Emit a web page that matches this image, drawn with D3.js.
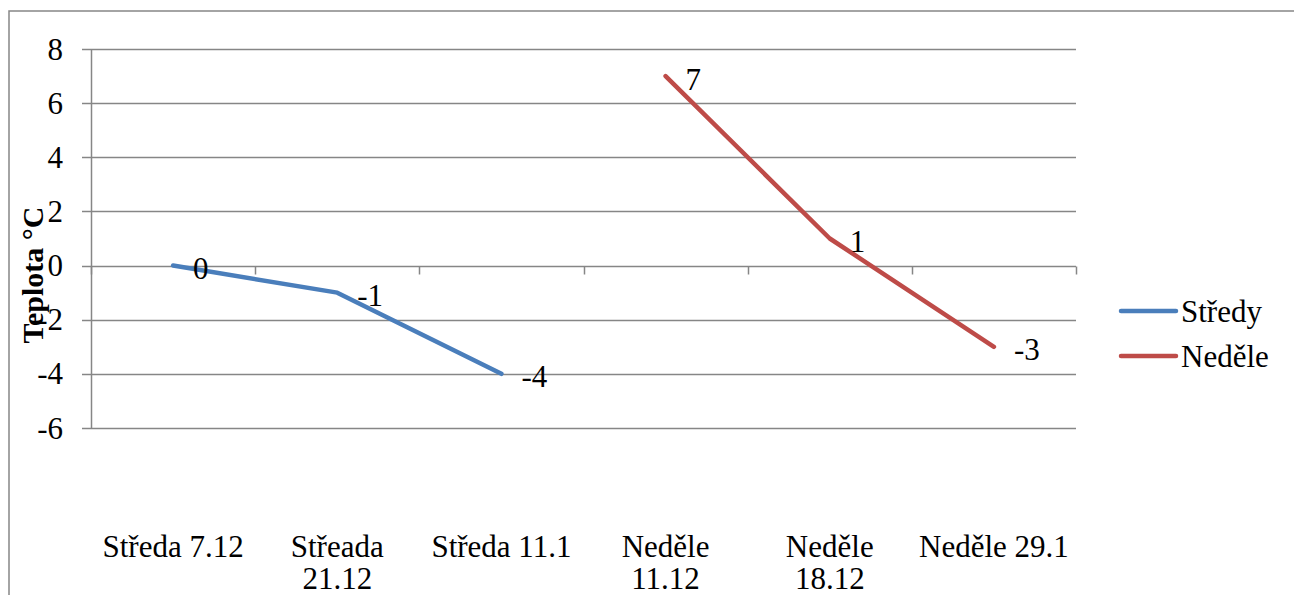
<!DOCTYPE html>
<html>
<head>
<meta charset="utf-8">
<script src="https://cdn.jsdelivr.net/npm/d3@7"></script>
<style>
  html, body { margin: 0; padding: 0; background: #fff; }
  svg { display: block; }
</style>
</head>
<body>
<svg id="chart" width="1294" height="595"></svg>
<script>
const categories = ["Středa 7.12", "Střeada 21.12", "Středa 11.1", "Neděle 11.12", "Neděle 18.12", "Neděle 29.1"];
const seriesNames = ["Středy", "Neděle"];
const stredyValues = [0, -1, -4, null, null, null];
const nedeleValues = [null, null, null, 7, 1, -3];
const yTicks = [-6, -4, -2, 0, 2, 4, 6, 8];
const yTitle = "Teplota °C";
const colors = ["#4A7EBB", "#BE4B48"];

(function () {
const svg = d3.select("#chart");
const plotL = 91, plotR = 1076, plotT = 49, plotB = 428;
const gridColor = "#868686";
const fs = 31;
const ff = "'Liberation Serif', 'Times New Roman', Times, Tinos, 'Nimbus Roman', 'Nimbus Roman No9 L', 'Noto Serif', FreeSerif, 'DejaVu Serif', serif";

// outer border
svg.append("rect").attr("x", 9).attr("y", 11).attr("width", 1300).attr("height", 600)
  .attr("fill", "none").attr("stroke", gridColor).attr("stroke-width", 1.5);

const x = d3.scaleBand().domain(categories).range([plotL, plotR]);
const y = d3.scaleLinear().domain([-6, 8]).range([plotB, plotT]);

// gridlines
svg.append("g").selectAll("line").data(yTicks).join("line")
  .attr("x1", plotL - 9).attr("x2", plotR)
  .attr("y1", d => Math.round(y(d)) + 0.5).attr("y2", d => Math.round(y(d)) + 0.5)
  .attr("stroke", gridColor).attr("stroke-width", 1.5);

// y axis line
svg.append("line").attr("x1", plotL + 0.5).attr("x2", plotL + 0.5).attr("y1", y(8)).attr("y2", y(-6))
  .attr("stroke", gridColor).attr("stroke-width", 1.5);

// y tick labels
svg.append("g").selectAll("text").data(yTicks).join("text")
  .attr("x", 63).attr("y", d => y(d))
  .attr("dy", "0.34em")
  .attr("text-anchor", "end").attr("font-size", fs).attr("font-family", ff).attr("fill", "#000")
  .text(d => d);

// x axis ticks along 0 line
const xAxisY = Math.round(y(0)) + 0.5;
const tickPositions = categories.map(c => x(c)).concat([plotR]);
svg.append("g").selectAll("line").data(tickPositions).join("line")
  .attr("x1", d => Math.round(d) + 0.5).attr("x2", d => Math.round(d) + 0.5)
  .attr("y1", xAxisY).attr("y2", xAxisY + 8)
  .attr("stroke", gridColor).attr("stroke-width", 1.5);

// category labels (wrapped)
const catG = svg.append("g");
categories.forEach(c => {
  const cx = x(c) + x.bandwidth() / 2;
  const t = catG.append("text").attr("x", cx).attr("y", 557)
    .attr("text-anchor", "middle").attr("font-size", fs).attr("font-family", ff).attr("fill", "#000").text(c);
  if (t.node().getComputedTextLength() > 152) {
    const words = c.split(" ");
    const last = words.pop();
    t.text(null);
    t.append("tspan").attr("x", cx).attr("y", 557).text(words.join(" "));
    t.append("tspan").attr("x", cx).attr("y", 589).text(last);
  }
});

// y title
svg.append("text")
  .attr("transform", "translate(43, 275) rotate(-90)")
  .attr("text-anchor", "middle").attr("font-size", 30).attr("font-weight", "bold").attr("font-family", ff)
  .attr("fill", "#000").text(yTitle);

// series
const allSeries = [stredyValues, nedeleValues];
const line = d3.line()
  .defined(d => d.v !== null)
  .x(d => x(d.c) + x.bandwidth() / 2)
  .y(d => y(d.v));

allSeries.forEach((vals, i) => {
  const pts = categories.map((c, j) => ({ c, v: vals[j] }));
  svg.append("path").datum(pts)
    .attr("d", line)
    .attr("fill", "none").attr("stroke", colors[i]).attr("stroke-width", 4.5)
    .attr("stroke-linecap", "round").attr("stroke-linejoin", "round");
  svg.append("g").selectAll("text").data(pts.filter(p => p.v !== null)).join("text")
    .attr("x", p => x(p.c) + x.bandwidth() / 2 + 20)
    .attr("y", p => y(p.v) + 3)
    .attr("dy", "0.34em")
    .attr("font-size", fs).attr("font-family", ff).attr("fill", "#000")
    .text(p => p.v);
});

// legend
const legY = [311, 356];
seriesNames.forEach((n, i) => {
  svg.append("line").attr("x1", 1121).attr("x2", 1176).attr("y1", legY[i]).attr("y2", legY[i])
    .attr("stroke", colors[i]).attr("stroke-width", 4.5).attr("stroke-linecap", "round");
  svg.append("text").attr("x", 1181).attr("y", legY[i]).attr("dy", "0.34em")
    .attr("font-size", fs).attr("font-family", ff).attr("fill", "#000").text(n);
});
})();
</script>
</body>
</html>
